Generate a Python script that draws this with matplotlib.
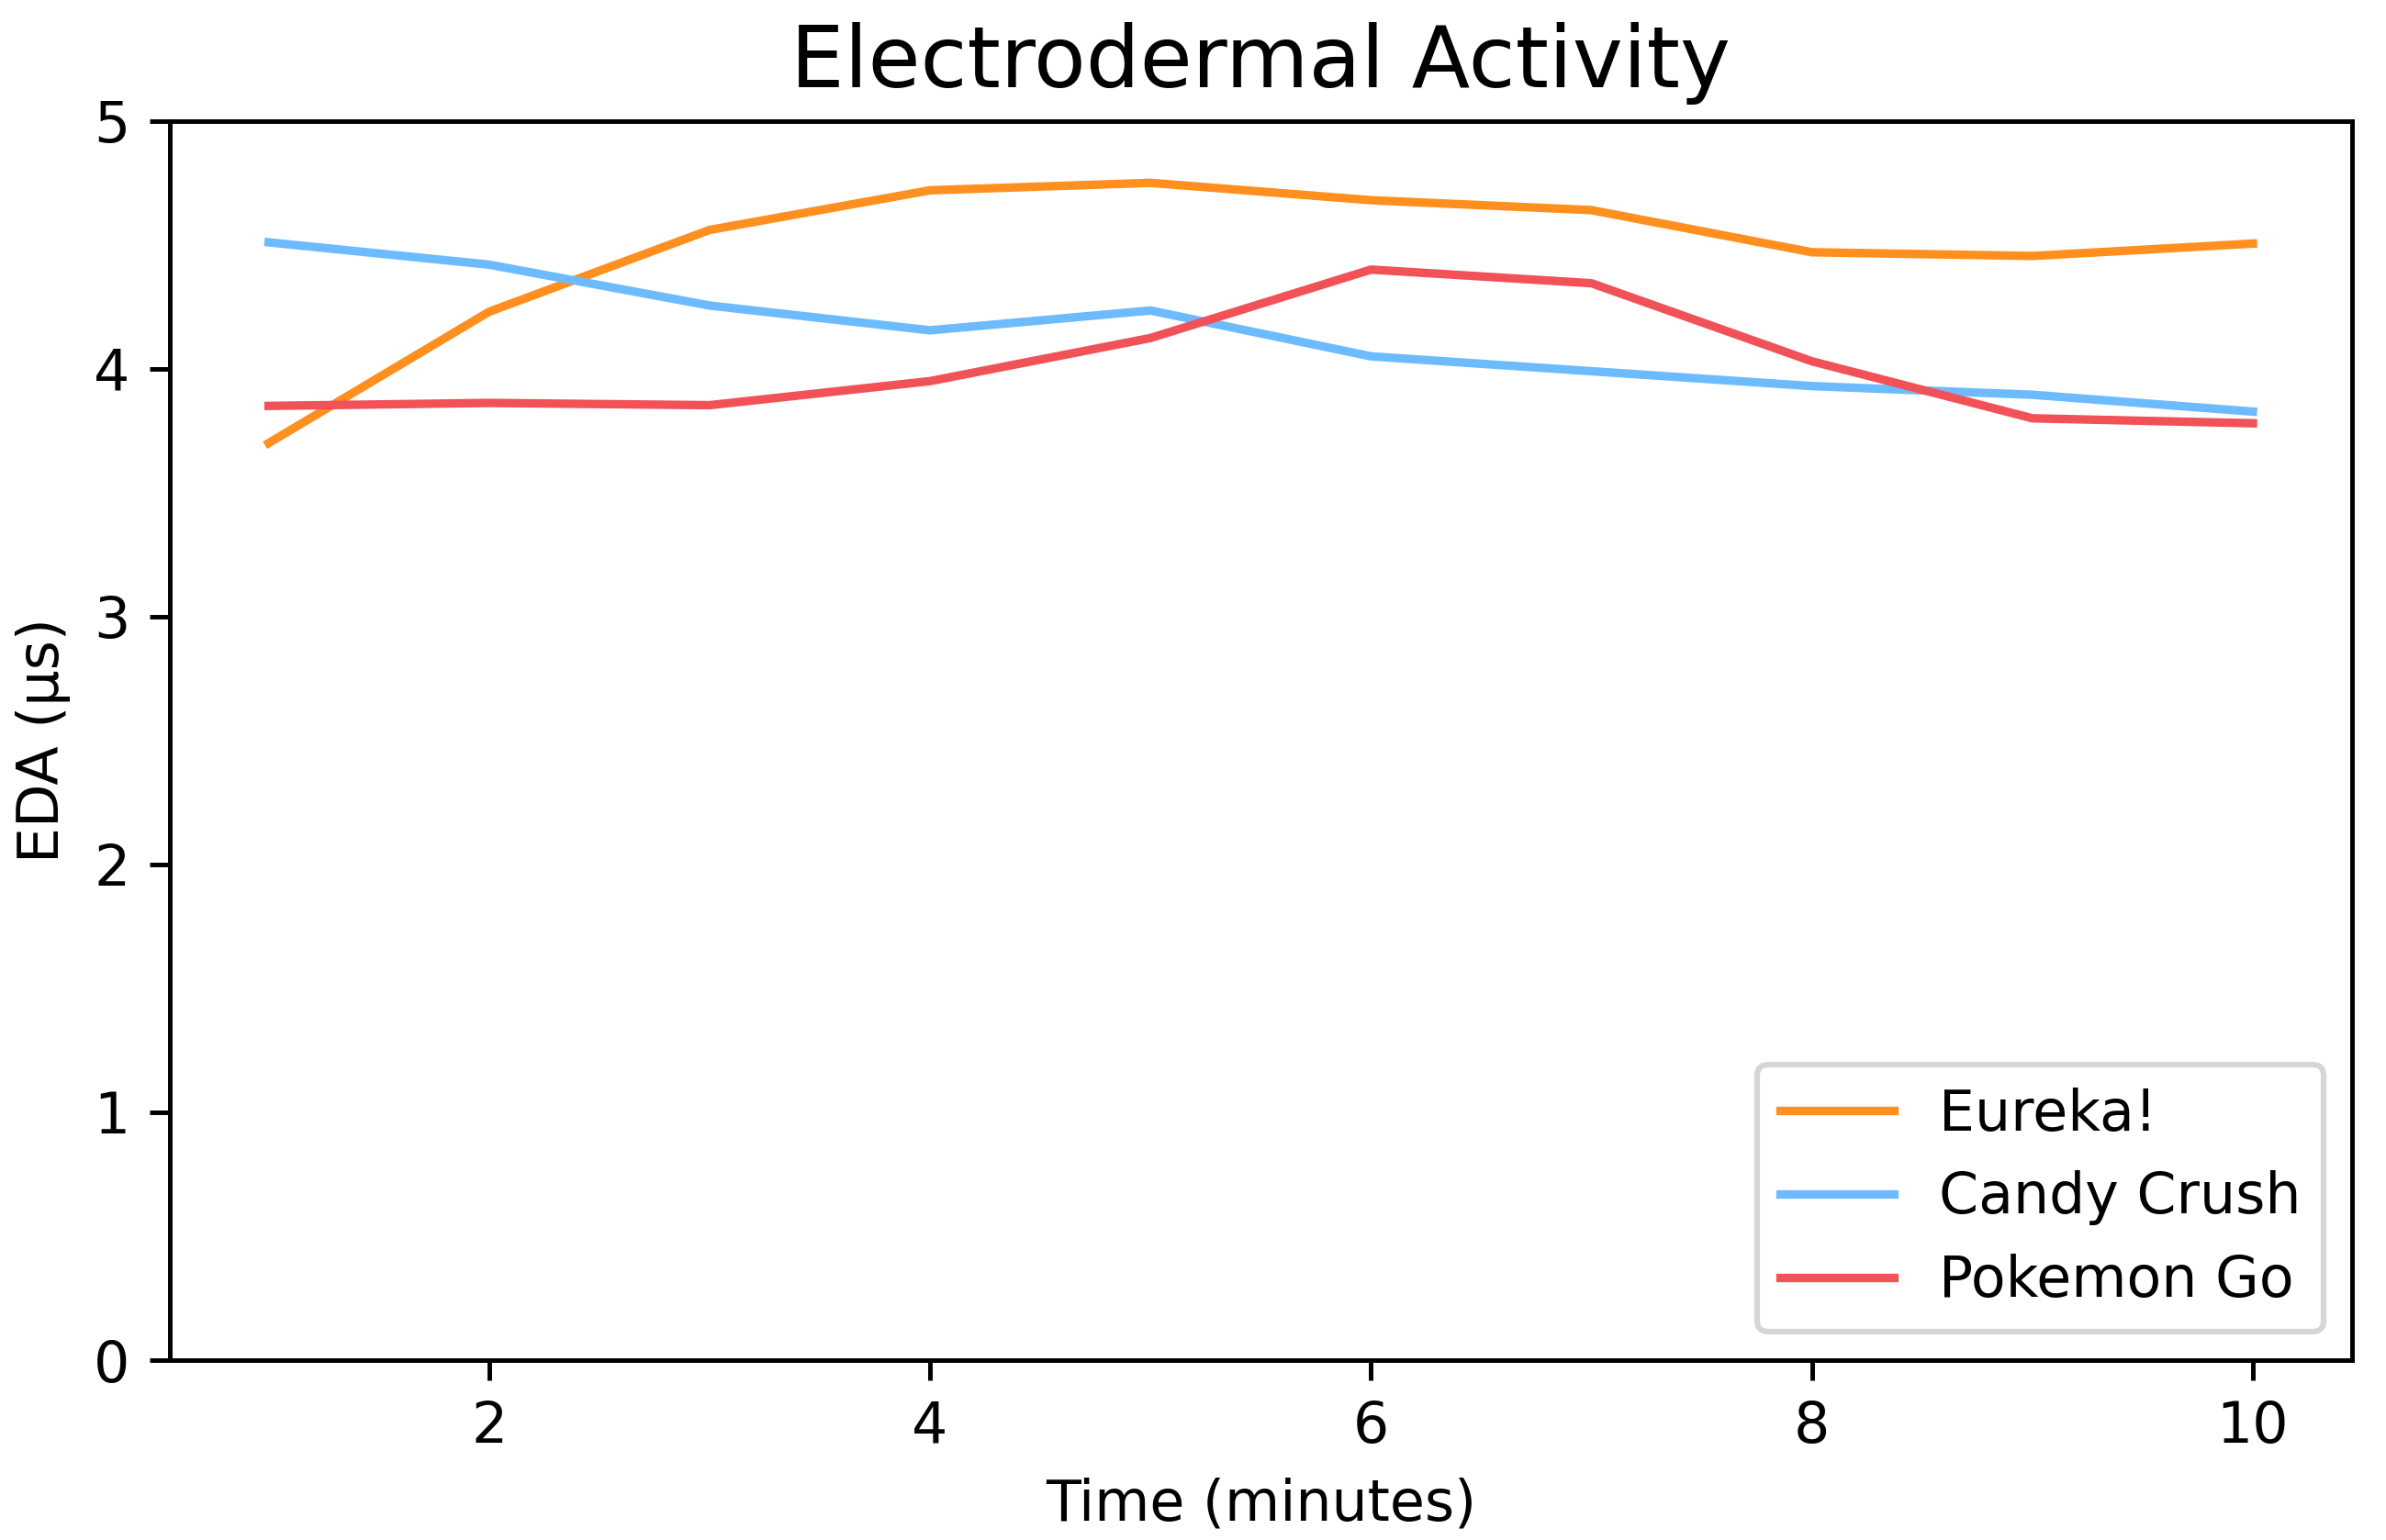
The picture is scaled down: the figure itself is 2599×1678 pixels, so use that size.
import matplotlib
matplotlib.use("Agg")
import matplotlib.pyplot as plt

time_min = [1, 2, 3, 4, 5, 6, 7, 8, 9, 10]
eureka = [3.70, 4.23, 4.56, 4.72, 4.75, 4.68, 4.64, 4.47, 4.455, 4.505]
candy_crush = [4.51, 4.42, 4.255, 4.155, 4.235, 4.05, 3.99, 3.93, 3.895, 3.827]
pokemon_go = [3.85, 3.862, 3.853, 3.95, 4.124, 4.40, 4.345, 4.03, 3.80, 3.78]

series_names = ["Eureka!", "Candy Crush", "Pokemon Go"]
series_colors = ["#FF8F1F", "#6DBBFF", "#F05257"]

plt.rcParams['font.family'] = ['DejaVu Sans']

DPI = 445
fig = plt.figure(figsize=(2599 / DPI, 1678 / DPI), dpi=DPI)
ax = fig.add_subplot(111)
fig.subplots_adjust(left=0.0710, right=0.9858, top=0.9215, bottom=0.1168)

for vals, name, col in zip([eureka, candy_crush, pokemon_go], series_names, series_colors):
    ax.plot(time_min, vals, color=col, lw=1.5, label=name)

ax.set_ylim(0, 5)
ax.set_yticks([0, 1, 2, 3, 4, 5])
ax.set_xticks([2, 4, 6, 8, 10])
ax.set_xlabel("Time (minutes)")
ax.set_ylabel("EDA (µs)")
ax.set_title("Electrodermal Activity", fontsize=15)
ax.legend(loc="lower right")

fig.savefig("out.png", dpi=DPI)
